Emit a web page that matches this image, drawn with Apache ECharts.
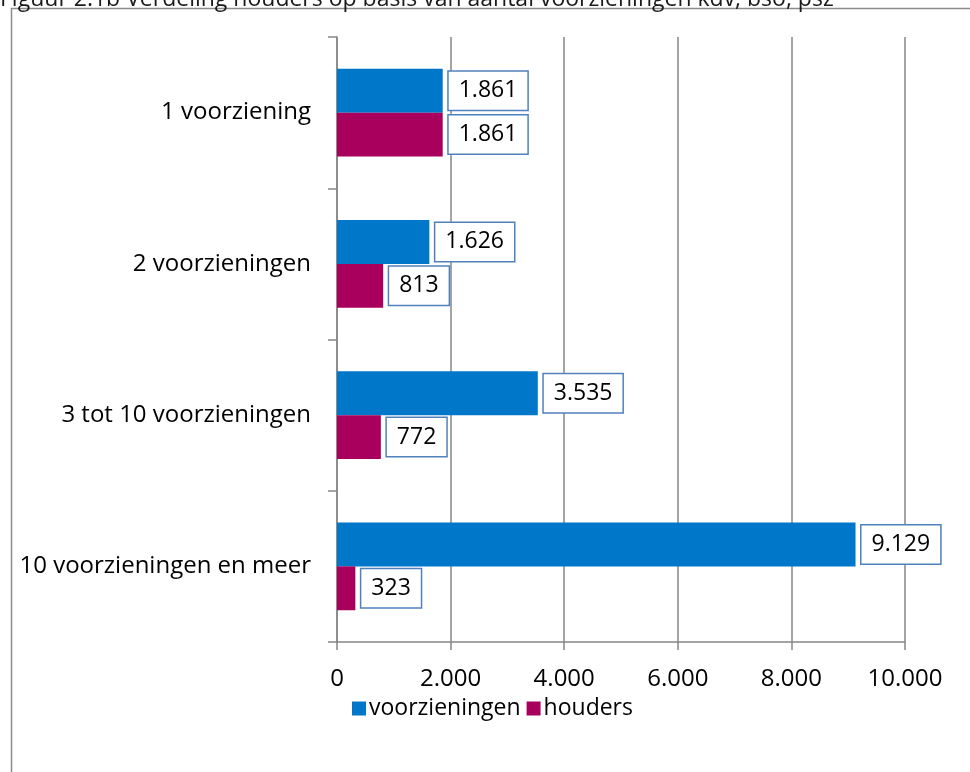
<!DOCTYPE html>
<html>
<head>
<meta charset="utf-8">
<script src="https://cdn.jsdelivr.net/npm/echarts@6/dist/echarts.min.js"></script>
<style>
  html, body { margin: 0; padding: 0; background: #fff; }
  #chart { width: 970px; height: 772px; }
</style>
</head>
<body>
<div id="chart"></div>
<script>
// categories, top to bottom
var categories = ['1 voorziening', '2 voorzieningen', '3 tot 10 voorzieningen', '10 voorzieningen en meer'];
var voorzieningen = [1861, 1626, 3535, 9129];
var houders = [1861, 813, 772, 323];
var titleText = 'Figuur 2.1b Verdeling houders op basis van aantal voorzieningen kdv, bso, psz';

var fontFamily = '"Open Sans", "Noto Sans", sans-serif';

function nlFormat(v) {
    return String(v).replace(/\B(?=(\d{3})+(?!\d))/g, '.');
}

var labelStyle = {
    show: true,
    position: 'right',
    distance: 6,
    formatter: function (p) { return nlFormat(p.value); },
    color: '#000',
    fontFamily: fontFamily,
    fontSize: 23,
    backgroundColor: '#fff',
    borderColor: '#4f81bd',
    borderWidth: 1.5,
    padding: [8, 10, 7, 10]
};

var chart = echarts.init(document.getElementById('chart'));

var option = {
    animation: false,
    textStyle: { fontFamily: fontFamily },
    graphic: [
        {
            type: 'rect',
            shape: { x: 11.5, y: 8.5, width: 1000, height: 800 },
            style: { fill: 'none', stroke: '#8c8c8c', lineWidth: 1.5 }
        },
        {
            type: 'text',
            x: 0,
            y: 11,
            style: {
                text: titleText, fontSize: 23, fill: '#1a1a1a',
                fontFamily: fontFamily, verticalAlign: 'bottom'
            }
        }
    ],
    grid: { left: 337, right: 65, top: 37, bottom: 130 },
    legend: {
        left: 347,
        top: 692,
        itemWidth: 14,
        itemHeight: 14,
        itemGap: 6,
        icon: 'rect',
        textStyle: { fontSize: 23, color: '#000', fontFamily: fontFamily, padding: [0, 0, 0, -2] },
        data: ['voorzieningen', 'houders']
    },
    xAxis: {
        type: 'value',
        min: 0,
        max: 10000,
        interval: 2000,
        axisLine: { show: true, lineStyle: { color: '#868686', width: 1.5 } },
        axisTick: { show: true, length: 8, lineStyle: { color: '#868686', width: 1.5 } },
        splitLine: { show: true, lineStyle: { color: '#868686', width: 1.5 } },
        axisLabel: {
            color: '#000',
            fontSize: 24,
            margin: 25,
            fontFamily: fontFamily,
            formatter: nlFormat
        }
    },
    yAxis: {
        type: 'category',
        inverse: true,
        data: categories,
        axisLine: { show: true, lineStyle: { color: '#868686', width: 1.5 } },
        axisTick: { show: true, length: 9, lineStyle: { color: '#868686', width: 1.5 } },
        axisLabel: {
            color: '#000',
            fontSize: 24,
            margin: 26,
            fontFamily: fontFamily
        }
    },
    series: [
        {
            name: 'voorzieningen',
            type: 'bar',
            data: voorzieningen,
            barGap: '0%',
            barCategoryGap: '42%',
            itemStyle: { color: '#0077c8' },
            label: labelStyle
        },
        {
            name: 'houders',
            type: 'bar',
            data: houders,
            itemStyle: { color: '#a8005c' },
            label: labelStyle
        }
    ]
};

chart.setOption(option);
</script>
</body>
</html>
